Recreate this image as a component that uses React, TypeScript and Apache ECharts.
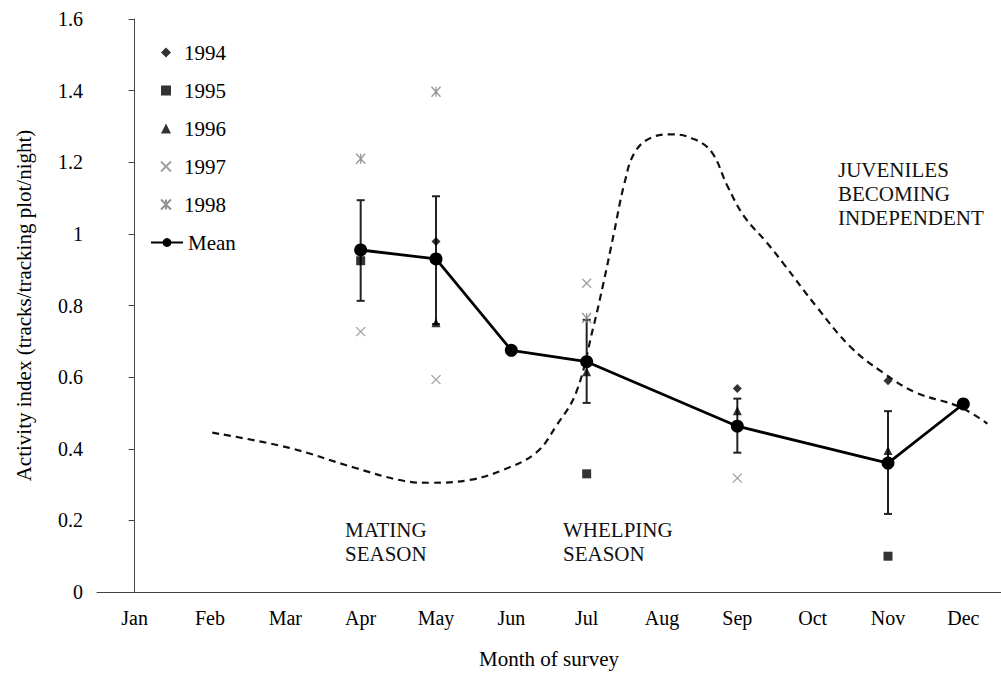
import React, { useEffect, useRef } from "react";
import * as echarts from "echarts";

const months = ["Jan", "Feb", "Mar", "Apr", "May", "Jun", "Jul", "Aug", "Sep", "Oct", "Nov", "Dec"];
const yTicks = [0, 0.2, 0.4, 0.6, 0.8, 1, 1.2, 1.4, 1.6];

const meanMonths = ["Apr", "May", "Jun", "Jul", "Sep", "Nov", "Dec"];
const meanValues = [0.955, 0.93, 0.675, 0.643, 0.463, 0.36, 0.525];
const errLow = [0.813, 0.748, null, 0.528, 0.389, 0.218, null];
const errHigh = [1.094, 1.105, null, 0.76, 0.54, 0.505, null];

const y1994Months = ["May", "Sep", "Nov"];
const y1994Values = [0.979, 0.568, 0.59];
const y1995Months = ["Apr", "Jul", "Nov"];
const y1995Values = [0.925, 0.33, 0.1];
const y1996Months = ["May", "Jul", "Sep", "Nov"];
const y1996Values = [0.752, 0.615, 0.506, 0.395];
const y1997Months = ["Apr", "May", "Jul", "Sep"];
const y1997Values = [0.727, 0.593, 0.862, 0.318];
const y1998Months = ["Apr", "May", "Jul"];
const y1998Values = [1.21, 1.397, 0.765];

// seasonal activity curve (x in month-index units, Jan = 0)
const curveMonth = [1.03, 2.04, 2.92, 3.58, 3.92, 4.45, 4.89, 5.33, 5.59, 5.86, 6.09, 6.22, 6.36, 6.5, 6.64, 6.87, 7.13, 7.43, 7.66, 7.87, 8.09, 8.39, 8.62, 9.05, 9.5, 9.93, 10.37, 10.95, 11.32];
const curveValue = [0.445, 0.403, 0.347, 0.31, 0.305, 0.313, 0.341, 0.389, 0.462, 0.557, 0.741, 0.86, 1.0, 1.14, 1.228, 1.27, 1.278, 1.264, 1.228, 1.133, 1.049, 0.976, 0.915, 0.797, 0.685, 0.613, 0.557, 0.517, 0.47];

const annotations = [
  { text: "MATING\nSEASON", x: 345, y: 518 },
  { text: "WHELPING\nSEASON", x: 563, y: 518 },
  { text: "JUVENILES\nBECOMING\nINDEPENDENT", x: 838, y: 158 },
];

const FONT = "Liberation Serif";

const zip = (a: any[], b: any[]) => a.map((v, i) => [v, b[i]]);

export default function App() {
  const ref = useRef<HTMLDivElement>(null);
  useEffect(() => {
    if (!ref.current) return;
    const chart = echarts.init(ref.current, undefined, { renderer: "svg" });
    const errData = meanMonths
      .map((m, i) => [m, errLow[i], errHigh[i]])
      .filter((d) => d[1] !== null);
    const legendText = { fontFamily: FONT, fontSize: 21, color: "#000" };
    const option: any = {
      animation: false,
      backgroundColor: "#fff",
      textStyle: { fontFamily: FONT, color: "#000" },
      grid: { left: 97, right: -7, top: 19, bottom: 82, containLabel: false },
      legend: [
        {
          orient: "vertical",
          left: 155,
          top: 37,
          itemWidth: 10,
          itemHeight: 10,
          itemGap: 17,
          textStyle: { ...legendText, padding: [0, 0, 0, 8] },
          data: ["1994", "1995", "1996", "1997", "1998"],
        },
        {
          orient: "vertical",
          left: 145,
          top: 227,
          itemWidth: 32,
          itemHeight: 11,
          textStyle: { ...legendText, padding: [0, 0, 0, 0] },
          data: ["Mean"],
        },
      ],
      xAxis: [
        {
          type: "category",
          data: months,
          boundaryGap: true,
          axisLine: { lineStyle: { color: "#444", width: 1 } },
          axisTick: { inside: true, length: 6, lineStyle: { color: "#444" } },
          axisLabel: { color: "#000", fontSize: 20, margin: 16, interval: 0, fontFamily: FONT },
          splitLine: { show: false },
          name: "Month of survey",
          nameLocation: "middle",
          nameGap: 56,
          nameTextStyle: { fontSize: 21, color: "#000", fontFamily: FONT },
        },
        { type: "value", min: -0.5, max: 11.5, show: false },
      ],
      yAxis: {
        type: "value",
        min: yTicks[0],
        max: yTicks[yTicks.length - 1],
        interval: 0.2,
        axisLine: { show: true, lineStyle: { color: "#444", width: 1 } },
        axisTick: { show: true, length: 6, lineStyle: { color: "#444" } },
        axisLabel: { color: "#000", fontSize: 20, margin: 14, fontFamily: FONT },
        splitLine: { show: false },
        name: "Activity index (tracks/tracking plot/night)",
        nameLocation: "middle",
        nameRotate: 90,
        nameGap: 63,
        nameTextStyle: { fontSize: 21, color: "#000", fontFamily: FONT },
      },
      graphic: annotations.map((a) => ({
        type: "text",
        x: a.x,
        y: a.y,
        style: {
          text: a.text,
          fontFamily: FONT,
          fontSize: 21,
          lineHeight: 24,
          fill: "#111",
          textVerticalAlign: "top",
        },
      })),
      series: [
        {
          type: "line",
          name: "curve",
          xAxisIndex: 1,
          data: zip(curveMonth, curveValue),
          smooth: 0.4,
          symbol: "none",
          lineStyle: { color: "#111", width: 2.2, type: [7, 5] },
          z: 1,
        },
        {
          type: "custom",
          name: "err",
          data: errData,
          encode: { x: 0, y: [1, 2] },
          z: 2,
          renderItem: (params: any, api: any) => {
            const xi = api.value(0);
            const lo = api.coord([xi, api.value(1)]);
            const hi = api.coord([xi, api.value(2)]);
            const w = 4;
            const st = { stroke: "#222", lineWidth: 2 };
            return {
              type: "group",
              children: [
                { type: "line", shape: { x1: lo[0], y1: lo[1], x2: hi[0], y2: hi[1] }, style: st },
                { type: "line", shape: { x1: lo[0] - w, y1: lo[1], x2: lo[0] + w, y2: lo[1] }, style: st },
                { type: "line", shape: { x1: hi[0] - w, y1: hi[1], x2: hi[0] + w, y2: hi[1] }, style: st },
              ],
            };
          },
        },
        {
          type: "scatter",
          name: "1994",
          data: zip(y1994Months, y1994Values),
          symbol: "diamond",
          symbolSize: 9,
          itemStyle: { color: "#000" },
          z: 3,
        },
        {
          type: "scatter",
          name: "1995",
          data: zip(y1995Months, y1995Values),
          symbol: "rect",
          symbolSize: 9,
          itemStyle: { color: "#000" },
          z: 3,
        },
        {
          type: "scatter",
          name: "1996",
          data: zip(y1996Months, y1996Values),
          symbol: "triangle",
          symbolSize: 9,
          itemStyle: { color: "#000" },
          z: 3,
        },
        {
          type: "scatter",
          name: "1997",
          data: zip(y1997Months, y1997Values),
          symbol: "path://M0,0L10,10M10,0L0,10",
          symbolSize: 9,
          itemStyle: { color: "transparent", borderColor: "#888", borderWidth: 1.3 },
          z: 3,
        },
        {
          type: "scatter",
          name: "1998",
          data: zip(y1998Months, y1998Values),
          symbol: "path://M0,0L10,10M10,0L0,10M5,0L5,10",
          symbolSize: [9, 10],
          itemStyle: { color: "transparent", borderColor: "#777", borderWidth: 1.3 },
          z: 3,
        },
        {
          type: "line",
          name: "Mean",
          data: zip(meanMonths, meanValues),
          symbol: "circle",
          symbolSize: 13,
          lineStyle: { color: "#000", width: 2.8 },
          itemStyle: { color: "#000" },
          z: 4,
        },
      ],
    };
    chart.setOption(option);
    return () => chart.dispose();
  }, []);
  return (
    <div
      ref={ref}
      style={{ position: "absolute", left: 0, top: 0, width: 1001, height: 674, background: "#fff" }}
    />
  );
}
